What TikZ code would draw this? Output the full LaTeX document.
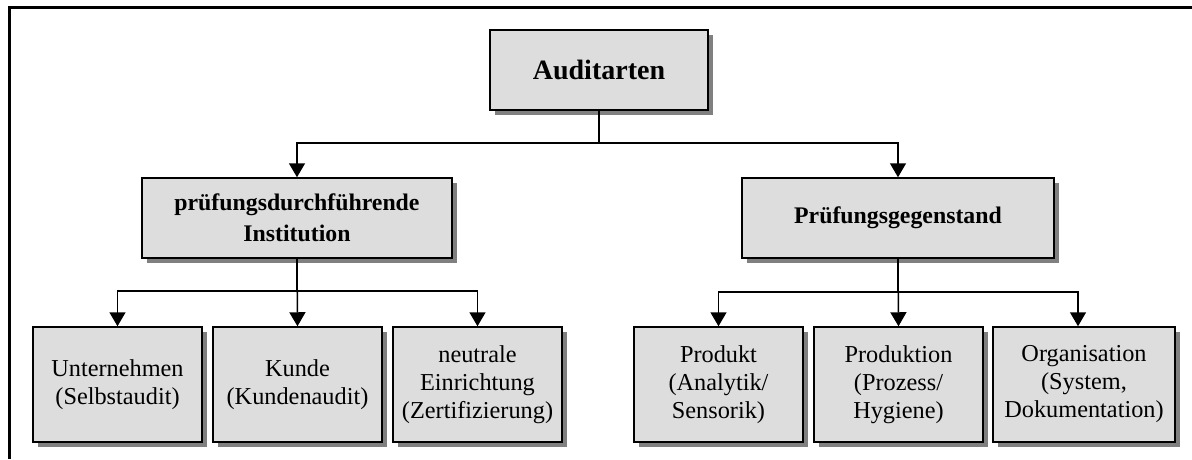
\documentclass[tikz,border=0pt]{standalone}
\usepackage{fontspec}
\setmainfont{Liberation Serif}
\usetikzlibrary{shadows,arrows.meta,calc}
\definecolor{boxfill}{HTML}{DDDDDD}
\definecolor{shadowgray}{HTML}{808080}
\begin{document}
\begin{tikzpicture}[x=1pt,y=-1pt,
  box/.style={draw=black, line width=1.5pt, fill=boxfill, rectangle,
    inner sep=0pt, align=center,
    drop shadow={shadow xshift=4.5pt, shadow yshift=-4.5pt, fill=shadowgray, opacity=1},
    font=\fontsize{24.3}{28}\selectfont},
  headbox/.style={box, font=\fontsize{23.8}{31}\selectfont\bfseries},
  leafbox/.style={box, minimum width=169pt, minimum height=115pt},
  arr/.style={line width=1.5pt, -{Triangle[length=14pt,width=16pt]}},
  frameline/.style={line width=3pt}]
  \useasboundingbox (0,0) rectangle (1192,459);

  % outer frame (only top and left edges lie inside the page)
  \draw[frameline] (1192,7) -- (9.5,7) -- (9.5,459);

  % root
  \node[box, minimum width=218pt, minimum height=80pt,
        font=\fontsize{28}{32}\selectfont\bfseries] (root) at (599,70) {Auditarten};

  % second level
  \node[headbox, minimum width=310pt, minimum height=80pt] (inst) at (297,218)
    {prüfungsdurchführende\\Institution};
  \node[headbox, minimum width=312pt, minimum height=80pt] (gegen) at (898,218)
    {Prüfungsgegenstand};

  % leaves
  \node[leafbox] (unt) at (117.5,384.5) {Unternehmen\\(Selbstaudit)};
  \node[leafbox] (kun) at (297.5,384.5) {Kunde\\(Kundenaudit)};
  \node[leafbox] (neu) at (477.5,384.5) {neutrale\\Einrichtung\\(Zertifizierung)};
  \node[leafbox] (pdk) at (718.5,384.5) {Produkt\\(Analytik/\\Sensorik)};
  \node[leafbox] (pdn) at (898.5,384.5) {Produktion\\(Prozess/\\Hygiene)};
  \node[leafbox, minimum width=182pt] (org) at (1084,384.5) {Organisation\\(System,\\Dokumentation)};

  % connectors
  \coordinate (j0) at (root.south |- 0,143);
  \draw[arr] (root.south) -- (j0) -| (inst.north);
  \draw[arr] (j0) -| (gegen.north);

  \coordinate (j1) at (inst.south |- 0,291);
  \draw[arr] (inst.south) -- (j1) -| (unt.north);
  \draw[arr] (j1) -| (neu.north);
  \draw[arr] (inst.south) -- (kun.north);

  \coordinate (j2) at (gegen.south |- 0,292);
  \coordinate (orgin) at ($(org.north)+(-6,0)$);
  \draw[arr] (gegen.south) -- (j2) -| (pdk.north);
  \draw[arr] (j2) -| (orgin);
  \draw[arr] (gegen.south) -- (pdn.north);
\end{tikzpicture}
\end{document}
